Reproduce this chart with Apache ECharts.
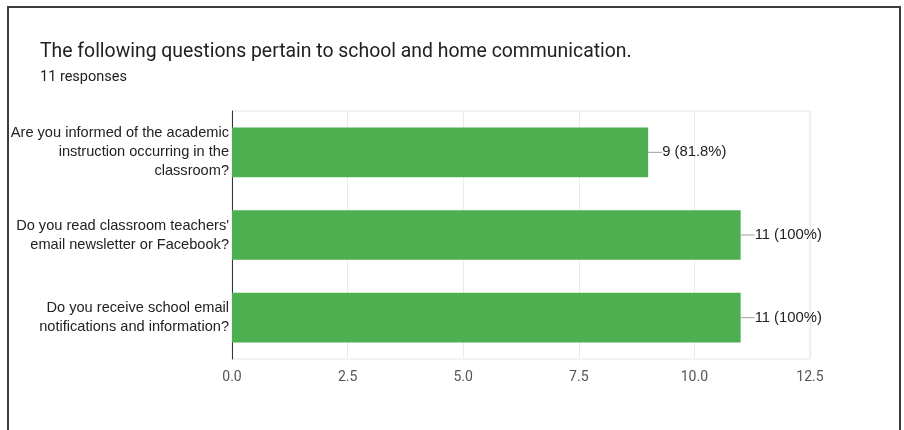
<!DOCTYPE html>
<html>
<head>
<meta charset="utf-8">
<script src="https://cdn.jsdelivr.net/npm/echarts@6/dist/echarts.min.js"></script>
<style>
  html, body { margin: 0; padding: 0; background: #fff; }
  #wrap { position: relative; width: 904px; height: 430px; overflow: hidden; }
  #frame { position: absolute; left: 7px; top: 6px; width: 890px; height: 440px;
           border: 2px solid #3c3c3c; border-bottom: none; }
  #chart { position: absolute; left: 0; top: 0; width: 904px; height: 430px; }
</style>
</head>
<body>
<div id="wrap">
  <div id="frame"></div>
  <div id="chart"></div>
</div>
<script>
var questions = [
  "Are you informed of the academic\ninstruction occurring in the\nclassroom?",
  "Do you read classroom teachers'\nemail newsletter or Facebook?",
  "Do you receive school email\nnotifications and information?"
];
var counts = [9, 11, 11];
var percents = ["81.8%", "100%", "100%"];
var totalResponses = 11;
var xTicks = [0, 2.5, 5, 7.5, 10, 12.5];

var myChart = echarts.init(document.getElementById("chart"));

var option = {
  animation: false,
  title: {
    text: "The following questions pertain to school and home communication.",
    subtext: totalResponses + " responses",
    left: 35,
    top: 38,
    itemGap: 8,
    textStyle: { fontFamily: "Roboto", fontSize: 19.4, fontWeight: "normal", color: "#212121" },
    subtextStyle: { fontFamily: "Roboto", fontSize: 14.5, color: "#212121" }
  },
  grid: {
    left: 232,
    right: 94,
    top: 111,
    bottom: 71,
    show: true,
    borderColor: "#e6e6e6",
    borderWidth: 1
  },
  xAxis: {
    type: "value",
    min: xTicks[0],
    max: xTicks[xTicks.length - 1],
    interval: 2.5,
    axisLine: { show: false },
    axisTick: { show: false },
    splitLine: { lineStyle: { color: "#ebebeb" } },
    axisLabel: {
      margin: 11,
      fontFamily: "Roboto",
      fontSize: 14,
      color: "#555",
      formatter: function (v) { return v.toFixed(1); }
    }
  },
  yAxis: {
    type: "category",
    inverse: true,
    data: questions,
    axisLine: { lineStyle: { color: "#333", width: 1 } },
    axisTick: { show: false },
    axisLabel: {
      margin: 3,
      fontFamily: "Liberation Sans",
      fontSize: 14.6,
      lineHeight: 19,
      color: "#222",
      align: "right"
    }
  },
  series: [
    {
      type: "bar",
      data: counts,
      barCategoryGap: "40%",
      itemStyle: { color: "#4caf50" },
      label: {
        show: true,
        position: "right",
        distance: 0,
        formatter: function (p) {
          return "{l|}{t|" + counts[p.dataIndex] + " (" + percents[p.dataIndex] + ")}";
        },
        rich: {
          l: { width: 14, height: 1, backgroundColor: "#9e9e9e" },
          t: { fontFamily: "Liberation Sans", fontSize: 14.8, color: "#222" }
        }
      }
    }
  ]
};

myChart.setOption(option);
</script>
</body>
</html>
